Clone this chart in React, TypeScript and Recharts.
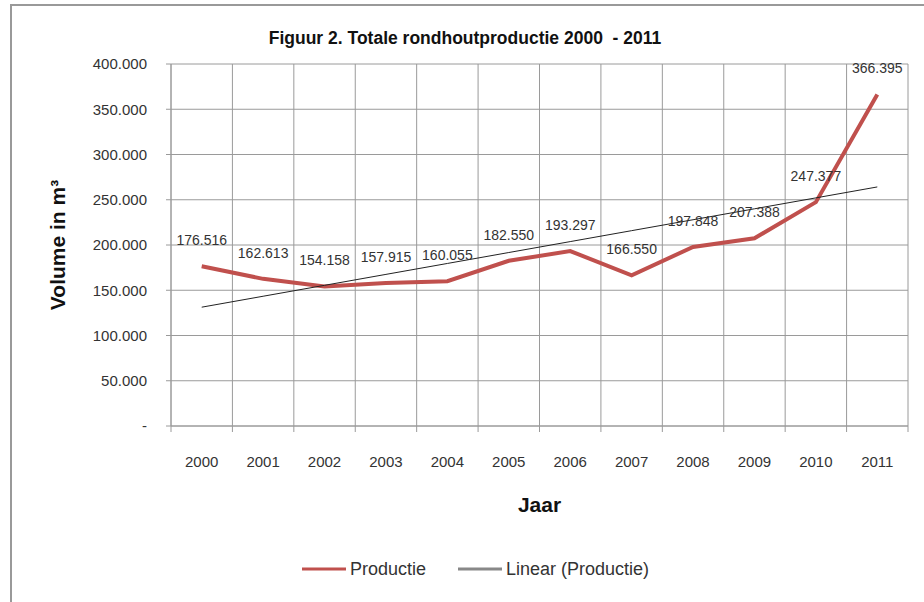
import { LineChart, Line, XAxis, YAxis, CartesianGrid, Legend, LabelList } from 'recharts';

const years = ['2000', '2001', '2002', '2003', '2004', '2005', '2006', '2007', '2008', '2009', '2010', '2011'];
const productie = [176516, 162613, 154158, 157915, 160055, 182550, 193297, 166550, 197848, 207388, 247377, 366395];
const yTicks = [0, 50000, 100000, 150000, 200000, 250000, 300000, 350000, 400000];

// least squares trend, same as Excel's linear trendline
function linearFit(values: number[]) {
  const n = values.length;
  const mx = (n - 1) / 2;
  const my = values.reduce((s, v) => s + v, 0) / n;
  let sxy = 0;
  let sxx = 0;
  values.forEach((v, i) => {
    sxy += (i - mx) * (v - my);
    sxx += (i - mx) * (i - mx);
  });
  const b = sxy / sxx;
  return { a: my - b * mx, b };
}

const fit = linearFit(productie);
const data = years.map((year, i) => ({
  idx: i,
  year,
  productie: productie[i],
  trend: fit.a + fit.b * i,
}));
const boundaryTicks = [...years.map((_, i) => i - 0.5), years.length - 0.5];

const fmt = (v: number) =>
  v === 0 ? '-' : Math.round(v).toString().replace(/\B(?=(\d{3})+(?!\d))/g, '.');

const FONT = '"Liberation Sans", Arial, sans-serif';
const GRID = '#9a9a9a';
const RED = '#c0504d';

const legendOrder = ['productie', 'trend'];
const legendStyle: Record<string, { color: string; width: number }> = {
  productie: { color: RED, width: 3 },
  trend: { color: '#888888', width: 3 },
};

function LegendContent(props: any) {
  const payload = [...(props.payload || [])].sort(
    (a: any, b: any) => legendOrder.indexOf(a.dataKey) - legendOrder.indexOf(b.dataKey)
  );
  return (
    <div style={{ display: 'flex', alignItems: 'center', paddingLeft: 302, height: 26, fontFamily: FONT }}>
      {payload.map((entry: any) => {
        const s = legendStyle[entry.dataKey] || { color: entry.color, width: 2 };
        return (
          <div key={entry.dataKey} style={{ display: 'flex', alignItems: 'center', marginRight: 32 }}>
            <svg width={44} height={10}>
              <line x1={0} y1={5} x2={44} y2={5} stroke={s.color} strokeWidth={s.width} />
            </svg>
            <span style={{ fontSize: 18, color: '#333', marginLeft: 4 }}>{entry.value}</span>
          </div>
        );
      })}
    </div>
  );
}

export default function App() {
  return (
    <div style={{ position: 'absolute', left: 0, top: 0, width: 924, height: 602, background: '#fff', overflow: 'hidden' }}>
      <div
        style={{
          position: 'absolute',
          left: 10,
          top: 4,
          width: 940,
          height: 620,
          borderLeft: '2px solid #999',
          borderTop: '2px solid #999',
        }}
      />
      <div
        style={{
          position: 'absolute',
          left: 0,
          top: 28,
          width: 930,
          textAlign: 'center',
          fontFamily: FONT,
          fontWeight: 'bold',
          fontSize: 17.5,
          color: '#111',
        }}
      >
        Figuur 2. Totale rondhoutproductie 2000&nbsp; - 2011
      </div>
      <div style={{ position: 'absolute', left: 0, top: 0 }}>
        <LineChart width={924} height={602} data={data} margin={{ top: 64, right: 16, left: 0, bottom: 20 }}>
          <CartesianGrid xAxisId="grid" stroke={GRID} strokeWidth={1} />
          <XAxis
            xAxisId="grid"
            dataKey="idx"
            type="number"
            domain={[-0.5, 11.5]}
            ticks={boundaryTicks}
            allowDataOverflow
            tickFormatter={() => ''}
            tickSize={6}
            height={6}
            axisLine={{ stroke: GRID }}
            tickLine={{ stroke: GRID }}
          />
          <XAxis
            xAxisId="main"
            dataKey="year"
            type="category"
            scale="band"
            height={124}
            axisLine={false}
            tickLine={false}
            tickSize={0}
            tickMargin={24}
            tick={{ fontSize: 15, fill: '#333', fontFamily: FONT }}
            label={{
              value: 'Jaar',
              position: 'insideBottom',
              offset: 44,
              style: { fontSize: 21, fontWeight: 'bold', fill: '#111', fontFamily: FONT },
            }}
          />
          <YAxis
            domain={[0, 400000]}
            ticks={yTicks}
            tickFormatter={fmt}
            width={171}
            tickSize={5}
            tickMargin={19}
            axisLine={{ stroke: GRID }}
            tickLine={{ stroke: GRID }}
            tick={{ fontSize: 15, fill: '#333', fontFamily: FONT }}
            label={{
              value: 'Volume in m³',
              angle: -90,
              position: 'insideLeft',
              offset: 58,
              style: { textAnchor: 'middle', fontSize: 21, fontWeight: 'bold', fill: '#111', fontFamily: FONT },
            }}
          />
          <Legend
            verticalAlign="bottom"
            wrapperStyle={{ left: 0, width: 924, height: 26 }}
            content={<LegendContent />}
          />
          <Line
            xAxisId="main"
            dataKey="productie"
            name="Productie"
            type="linear"
            stroke={RED}
            strokeWidth={4}
            dot={false}
            isAnimationActive={false}
          >
            <LabelList
              dataKey="productie"
              position="top"
              offset={21}
              formatter={(v: any) => fmt(Number(v))}
              style={{ fontSize: 14, fill: '#333', fontFamily: FONT }}
            />
          </Line>
          <Line
            xAxisId="main"
            dataKey="trend"
            name="Linear (Productie)"
            type="linear"
            stroke="#222"
            strokeWidth={1}
            dot={false}
            isAnimationActive={false}
          />
        </LineChart>
      </div>
    </div>
  );
}
